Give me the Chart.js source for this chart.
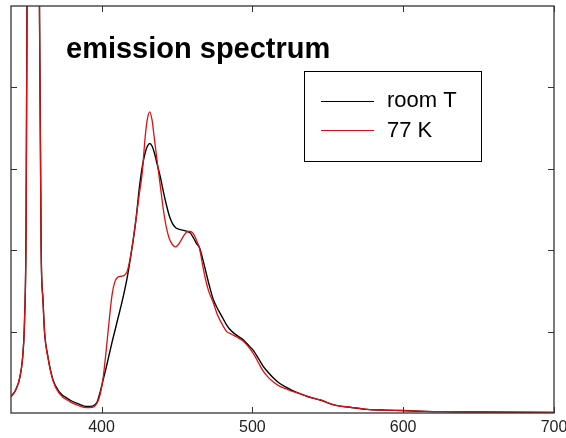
<!DOCTYPE html>
<html><head><meta charset="utf-8">
<script src="https://cdn.jsdelivr.net/npm/chart.js@4"></script>
<style>html,body{margin:0;padding:0;background:#fff}#wrap{width:566px;height:438px}</style>
</head><body><div id="wrap"><canvas id="c" width="566" height="438"></canvas></div>
<script>
const chartTitle = 'emission spectrum';
const seriesLabels = ['room T', '77 K'];
const xTicks = [400, 500, 600, 700];
const yTicks = [1, 2, 3, 4];

const wavelengths = [340,343,346,348,349,350,350.6,352,354.5,357,358.8,360,361.2,362.3,364.5,367.8,372,379,385,390,394,397,399,401,403,405,407,409,411,413,415,417,419,421,423,425,427,429,430.5,432,433.5,435,437,439,441,443,445,447,449,451,453,455,457,459,461,463,465,467,469,471,474,477,480,483,486,490,494,498,501,504,507,510,514,518,522,526,531,537,545,554,565,576,588,600,615,631,650,670,700];

const roomT = [0.20,0.28,0.45,0.75,1.15,2.3,5.0,12,20,12,5.2,2.0,1.39,0.98,0.69,0.41,0.26,0.16,0.11,0.08,0.085,0.13,0.25,0.40,0.55,0.71,0.87,1.02,1.17,1.32,1.48,1.66,1.88,2.12,2.40,2.75,3.02,3.20,3.28,3.31,3.28,3.20,3.05,2.90,2.72,2.56,2.42,2.33,2.28,2.26,2.25,2.24,2.23,2.21,2.15,2.08,2.03,1.90,1.75,1.60,1.40,1.28,1.18,1.08,1.01,0.95,0.90,0.82,0.76,0.67,0.58,0.51,0.43,0.365,0.32,0.28,0.24,0.20,0.16,0.10,0.07,0.045,0.035,0.03,0.02,0.016,0.012,0.01,0.008];

const k77 = [0.20,0.28,0.45,0.75,1.15,2.3,5.0,12,20,12,5.2,2.0,1.39,0.98,0.68,0.40,0.24,0.14,0.09,0.065,0.07,0.12,0.22,0.42,0.75,1.12,1.45,1.62,1.67,1.68,1.69,1.74,1.90,2.13,2.40,2.68,2.95,3.40,3.62,3.70,3.60,3.38,3.08,2.79,2.50,2.28,2.14,2.07,2.04,2.07,2.13,2.19,2.23,2.23,2.20,2.12,2.02,1.82,1.64,1.50,1.36,1.20,1.09,1.00,0.97,0.93,0.88,0.80,0.72,0.62,0.52,0.45,0.38,0.33,0.30,0.27,0.24,0.20,0.16,0.10,0.07,0.045,0.035,0.03,0.02,0.016,0.012,0.01,0.008];

const seriesColors = ['#000000', '#e01010'];

const framePlugin = {
  id: 'frame',
  afterDraw(chart) {
    const ctx = chart.ctx, a = chart.chartArea;
    const xs = chart.scales.x, ys = chart.scales.y;
    ctx.save();
    ctx.strokeStyle = '#333';
    ctx.lineWidth = 1.3;
    ctx.strokeRect(a.left, a.top, a.right - a.left, a.bottom - a.top);
    ctx.lineWidth = 1;
    ctx.beginPath();
    xTicks.forEach(v => {
      const px = Math.round(xs.getPixelForValue(v)) + 0.5;
      ctx.moveTo(px, a.bottom); ctx.lineTo(px, a.bottom - 6);
      ctx.moveTo(px, a.top); ctx.lineTo(px, a.top + 6);
    });
    yTicks.forEach(v => {
      const py = Math.round(ys.getPixelForValue(v)) + 0.5;
      ctx.moveTo(a.left, py); ctx.lineTo(a.left + 6, py);
      ctx.moveTo(a.right, py); ctx.lineTo(a.right - 6, py);
    });
    ctx.stroke();
    // title
    ctx.fillStyle = '#000';
    ctx.font = 'bold 29px "Liberation Sans", Arial, sans-serif';
    ctx.textBaseline = 'alphabetic';
    ctx.fillText(chartTitle, 66, 58);
    // legend
    ctx.strokeStyle = '#000';
    ctx.lineWidth = 1;
    ctx.strokeRect(304.5, 71.5, 177, 90);
    ctx.font = '22px "Liberation Sans", Arial, sans-serif';
    const ly = [101.5, 130.5], ty = [107, 137];
    seriesLabels.forEach((lab, i) => {
      ctx.strokeStyle = seriesColors[i];
      ctx.lineWidth = 1.2;
      ctx.beginPath(); ctx.moveTo(321, ly[i]); ctx.lineTo(374, ly[i]); ctx.stroke();
      ctx.fillStyle = '#000';
      ctx.fillText(lab, 387, ty[i]);
    });
    ctx.restore();
  }
};

new Chart(document.getElementById('c'), {
  type: 'line',
  data: {
    datasets: [
      { label: seriesLabels[0], data: wavelengths.map((x, i) => ({x, y: roomT[i]})), borderColor: seriesColors[0], borderWidth: 1.4, pointRadius: 0, cubicInterpolationMode: 'monotone', order: 1 },
      { label: seriesLabels[1], data: wavelengths.map((x, i) => ({x, y: k77[i]})), borderColor: seriesColors[1], borderWidth: 1.3, pointRadius: 0, cubicInterpolationMode: 'monotone', order: 0 }
    ]
  },
  options: {
    responsive: false,
    animation: false,
    layout: { padding: { left: 11, top: 6, right: 0, bottom: 4 } },
    plugins: { legend: { display: false }, tooltip: { enabled: false } },
    scales: {
      x: {
        type: 'linear', min: 340, max: 700,
        afterBuildTicks: s => { s.ticks = xTicks.map(v => ({ value: v })); },
        afterFit: s => { s.height = 21; s.paddingRight = 12; },
        grid: { display: false, drawTicks: false },
        border: { display: false },
        ticks: { font: { family: '"Liberation Sans", Arial, sans-serif', size: 16 }, color: '#222', padding: 5, maxRotation: 0 }
      },
      y: { display: false, min: 0, max: 5 }
    }
  },
  plugins: [framePlugin]
});
</script>
</body></html>
